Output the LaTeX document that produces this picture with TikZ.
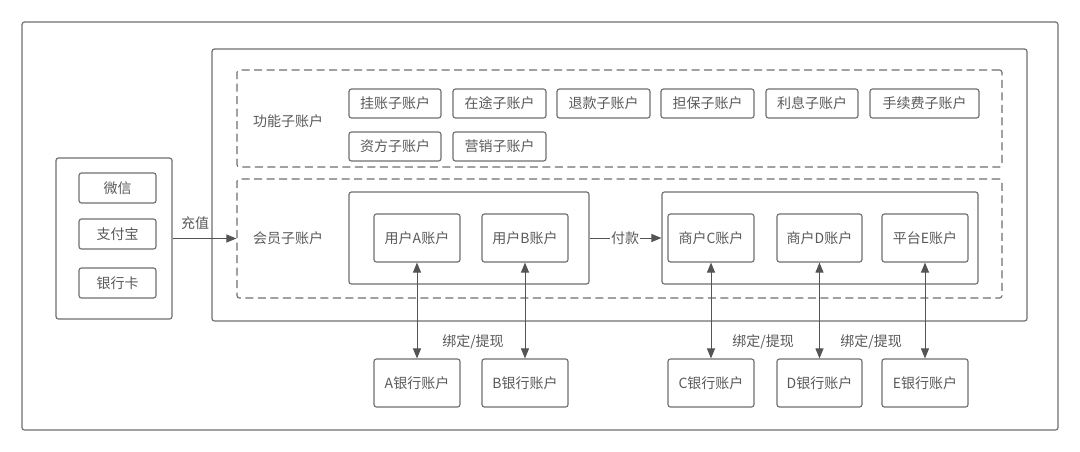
\documentclass[tikz,border=0pt]{standalone}
\usepackage{fontspec}
\setmainfont{Noto Sans CJK SC}[Scale=1]
\usetikzlibrary{arrows.meta,calc}
\definecolor{ln}{HTML}{707070}
\definecolor{tx}{HTML}{5A5A5A}
\tikzset{
  x=1pt,y=-1pt,
  boxbase/.style={draw=ln,line width=1.15pt,rounded corners=2.5pt,inner sep=0pt,text=tx,font=\fontsize{14pt}{16pt}\selectfont},
  outerbox/.style={boxbase,line width=1.2pt},
  dashbox/.style={boxbase,dash pattern=on 8pt off 4.5pt},
  lbl/.style={text=tx,inner sep=1pt,font=\fontsize{14pt}{16pt}\selectfont},
  flow/.style={draw=ln!75!black,line width=1pt,-{Triangle[length=10pt,width=8pt]}},
  bothway/.style={draw=ln!75!black,line width=1pt,{Triangle[length=10pt,width=8pt]}-{Triangle[length=10pt,width=8pt]}}
}
\newcommand{\bx}[7][boxbase]{%
  \node[#1,minimum width=#5pt-#3pt,minimum height=#6pt-#4pt] (#2) at ({(#3+#5)/2},{(#4+#6)/2}) {#7};}
\begin{document}
\begin{tikzpicture}
\useasboundingbox (0,0) rectangle (1080,451);
\fill[white] (0,0) rectangle (1080,451);
\bx[outerbox]{frame}{22}{22}{1058}{430}{}
\bx[outerbox]{src}{56}{158}{172}{319}{}
\bx{wx}{79}{173}{156}{203}{微信}
\bx{zfb}{79}{219}{156}{249}{支付宝}
\bx{yhk}{79}{268}{156}{298}{银行卡}
\bx[outerbox]{big}{212}{49}{1027}{321}{}
\bx[dashbox]{fn}{237}{70}{1002}{167}{}
\bx[dashbox]{mem}{237}{179}{1002}{298}{}
\node[lbl] (fnl) at (288,121) {功能子账户};
\node[lbl] (meml) at (288,238.5) {会员子账户};
\bx{f1}{349}{89}{441}{118}{挂账子账户}
\bx{f2}{453}{89}{546}{118}{在途子账户}
\bx{f3}{557}{89}{650}{118}{退款子账户}
\bx{f4}{661}{89}{754}{118}{担保子账户}
\bx{f5}{766}{89}{858}{118}{利息子账户}
\bx{f6}{870}{89}{979}{118}{手续费子账户}
\bx{f7}{349}{132}{441}{161}{资方子账户}
\bx{f8}{453}{132}{546}{161}{营销子账户}
\bx{ga}{349}{192}{589}{284}{}
\bx{gc}{662}{192}{978}{284}{}
\bx{ua}{374}{214}{460}{262}{用户A账户}
\bx{ub}{482}{214}{568}{262}{用户B账户}
\bx{uc}{668}{214}{754}{262}{商户C账户}
\bx{ud}{777}{214}{862}{262}{商户D账户}
\bx{ue}{882}{214}{968}{262}{平台E账户}
\bx{ba}{374}{359}{460}{407}{A银行账户}
\bx{bb}{482}{359}{568}{407}{B银行账户}
\bx{bc}{668}{359}{754}{407}{C银行账户}
\bx{bd}{777}{359}{862}{407}{D银行账户}
\bx{be}{882}{359}{968}{407}{E银行账户}
\draw[flow] (src.east) -- (mem.west);
\node[lbl] (cz) at (195,223) {充值};
\draw[flow] (ga.east) -- (gc.west);
\node[lbl,fill=white] (fk) at (625,238) {付款};
\draw[bothway] (ua) -- (ba);
\draw[bothway] (ub) -- (bb);
\draw[bothway] (uc) -- (bc);
\draw[bothway] (ud) -- (bd);
\draw[bothway] (ue) -- (be);
\node[lbl] (l1) at (473,341.5) {绑定/提现};
\node[lbl] (l2) at (763,341.5) {绑定/提现};
\node[lbl] (l3) at (871,341.5) {绑定/提现};
\end{tikzpicture}
\end{document}
